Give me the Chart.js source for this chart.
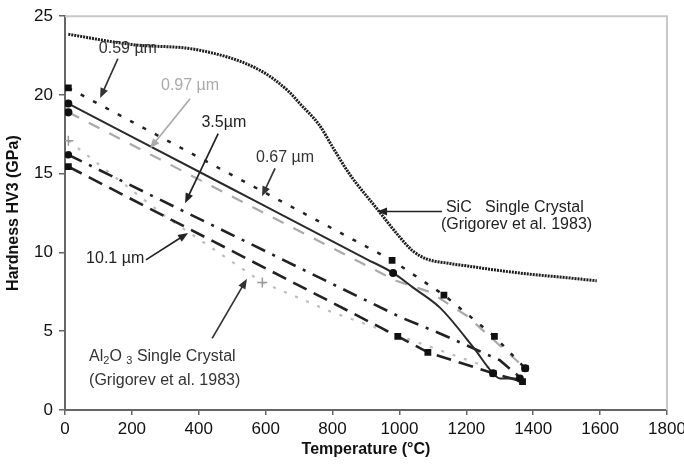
<!DOCTYPE html>
<html>
<head>
<meta charset="utf-8">
<script src="https://cdn.jsdelivr.net/npm/chart.js@4.4.1/dist/chart.umd.min.js"></script>
<style>
  html, body { margin: 0; padding: 0; background: #fff; }
  #wrap { width: 684px; height: 468px; }
</style>
</head>
<body>
<div id="wrap"><canvas id="hvChart"></canvas></div>
<script>
// temperature (°C) / hardness HV3 (GPa)
const xTicks = [0, 200, 400, 600, 800, 1000, 1200, 1400, 1600, 1800];
const yTicks = [0, 5, 10, 15, 20, 25];

const sicCrystalT  = [10, 200, 400, 580, 670, 700, 760, 800, 850, 930, 1000, 1040, 1080, 1150, 1200, 1300, 1400, 1500, 1590];
const sicCrystalHV = [23.85, 23.2, 22.85, 21.6, 20.2, 19.5, 18.1, 16.7, 15.0, 12.85, 11.0, 10.1, 9.6, 9.3, 9.15, 8.85, 8.6, 8.4, 8.2];

const g059T  = [10, 978, 1133, 1284, 1376];
const g059HV = [20.45, 9.5, 7.3, 4.67, 2.65];

const g067T  = [10, 500, 900, 981, 1041, 1121, 1220, 1280, 1300, 1360];
const g067HV = [19.45, 14.03, 9.6, 8.7, 7.77, 6.5, 4.0, 2.33, 2.0, 2.0];

const g097T  = [10, 990, 1090, 1200, 1376];
const g097HV = [18.9, 8.2, 7.5, 6.0, 2.65];

const g35T  = [10, 1002, 1121, 1300, 1360];
const g35HV = [16.2, 5.9, 4.86, 3.16, 2.08];

const g101T  = [10, 995, 1085, 1280, 1368];
const g101HV = [15.45, 4.67, 3.66, 2.33, 1.8];

const aluT  = [10, 300, 590, 800, 1000, 1200, 1280];
const aluHV = [17.1, 12.3, 8.1, 6.2, 4.7, 3.2, 2.6];

function pts(t, h) {
  return t.map((x, i) => ({ x: x, y: h[i] }));
}

// labels and arrows, in data coordinates
const notes = [
  { lines: ['0.59 µm'], x: 188, y: 22.92, align: 'center', color: '#333', from: [158, 22.3], to: [105, 19.8] },
  { lines: ['0.97 µm'], x: 374, y: 20.58, align: 'center', color: '#aaa', from: [374, 19.76], to: [254, 16.6] },
  { lines: ['3.5µm'], x: 475, y: 18.24, align: 'center', color: '#222', from: [458, 17.55], to: [359, 13.13] },
  { lines: ['0.67 µm'], x: 658, y: 16.04, align: 'center', color: '#333', from: [628, 15.34], to: [589, 13.57] },
  { lines: ['10.1 µm'], x: 150, y: 9.6, align: 'center', color: '#222', from: [242, 9.53], to: [368, 11.24] },
  { lines: ['SiC   Single Crystal', '(Grigorev et al. 1983)'], x: 1139, y: 12.88, align: 'left', indent: -5, gap: 17,
    color: '#222', from: [1127, 12.6], to: [933, 12.6] },
  { lines: ['AL2O3', '(Grigorev et al. 1983)'], x: 72, y: 3.41, align: 'left', indent: 0, gap: 24,
    color: '#333', from: [440, 4.55], to: [544, 8.33] }
];

function arrow(ctx, x1, y1, x2, y2, color) {
  const a = Math.atan2(y2 - y1, x2 - x1), L = 10, W = 4;
  ctx.strokeStyle = color; ctx.fillStyle = color; ctx.lineWidth = 1.7;
  ctx.beginPath();
  ctx.moveTo(x1, y1);
  ctx.lineTo(x2 - L * 0.8 * Math.cos(a), y2 - L * 0.8 * Math.sin(a));
  ctx.stroke();
  ctx.beginPath();
  ctx.moveTo(x2, y2);
  ctx.lineTo(x2 - L * Math.cos(a) + W * Math.sin(a), y2 - L * Math.sin(a) - W * Math.cos(a));
  ctx.lineTo(x2 - L * Math.cos(a) - W * Math.sin(a), y2 - L * Math.sin(a) + W * Math.cos(a));
  ctx.closePath();
  ctx.fill();
}

function alLine(ctx, x, y) {
  // Al2O3 with subscripts
  const parts = [['Al', 0], ['2', 1], ['O ', 0], ['3', 1], [' Single Crystal', 0]];
  let cx = x;
  parts.forEach(p => {
    ctx.font = p[1] ? '11px "Liberation Sans", Arial' : '16px "Liberation Sans", Arial';
    ctx.fillText(p[0], cx, y + (p[1] ? 5 : 0));
    cx += ctx.measureText(p[0]).width;
  });
}

const notesPlugin = {
  id: 'notes',
  beforeDatasetsDraw(chart) {
    const { ctx, chartArea: a } = chart;
    ctx.save();
    ctx.strokeStyle = '#c8c8c8';
    ctx.lineWidth = 2;
    ctx.beginPath();
    ctx.moveTo(a.left, a.top);
    ctx.lineTo(a.right, a.top);
    ctx.lineTo(a.right, a.bottom);
    ctx.stroke();
    ctx.restore();
  },
  afterDatasetsDraw(chart) {
    const { ctx, scales: { x, y }, chartArea: a } = chart;
    ctx.save();
    notes.forEach(n => {
      arrow(ctx, x.getPixelForValue(n.from[0]), y.getPixelForValue(n.from[1]),
        x.getPixelForValue(n.to[0]), y.getPixelForValue(n.to[1]), n.color);
      ctx.fillStyle = n.color;
      ctx.textAlign = n.align;
      ctx.textBaseline = 'middle';
      const px = x.getPixelForValue(n.x), py = y.getPixelForValue(n.y);
      n.lines.forEach((s, i) => {
        const ly = py + i * (n.gap || 0);
        if (s === 'AL2O3') {
          alLine(ctx, px, ly);
        } else {
          ctx.font = '16px "Liberation Sans", Arial';
          ctx.fillText(s, px + (i ? (n.indent || 0) : 0), ly);
        }
      });
    });
    // axis titles
    ctx.fillStyle = '#111';
    ctx.font = 'bold 16px "Liberation Sans", Arial';
    ctx.textAlign = 'center';
    ctx.textBaseline = 'middle';
    ctx.fillText('Temperature (°C)', (a.left + a.right) / 2, 450);
    ctx.translate(14, (a.top + a.bottom) / 2);
    ctx.rotate(-Math.PI / 2);
    ctx.fillText('Hardness HV3 (GPa)', 0, 0);
    ctx.restore();
  }
};

const ctx = document.getElementById('hvChart').getContext('2d');
const hvChart = new Chart(ctx, {
  type: 'scatter',
  data: {
    datasets: [
      { label: 'SiC Single Crystal', data: pts(sicCrystalT, sicCrystalHV), showLine: true,
        borderColor: '#1e1e1e', borderWidth: 3, borderDash: [2, 1], cubicInterpolationMode: 'monotone', pointRadius: 0 },
      { label: '0.59 µm', data: pts(g059T, g059HV), showLine: true,
        borderColor: '#222', borderWidth: 2.5, borderDash: [4, 10], pointStyle: 'rect', pointRadius: 3,
        pointBackgroundColor: '#111', pointBorderColor: '#111' },
      { label: '0.67 µm', data: pts(g067T, g067HV), showLine: true, cubicInterpolationMode: 'monotone',
        borderColor: '#2a2a2a', borderWidth: 2, pointRadius: [3, 0, 0, 3, 0, 0, 0, 3, 0, 3],
        pointBackgroundColor: '#111', pointBorderColor: '#111' },
      { label: '0.97 µm', data: pts(g097T, g097HV), showLine: true,
        borderColor: '#aaa', borderWidth: 2.2, borderDash: [12, 11], pointRadius: [3, 0, 0, 0, 3],
        pointBackgroundColor: '#111', pointBorderColor: '#111' },
      { label: '3.5 µm', data: pts(g35T, g35HV), showLine: true,
        borderColor: '#222', borderWidth: 2.6, borderDash: [15, 8, 3, 8], pointRadius: [2.5, 0, 0, 0, 0],
        pointBackgroundColor: '#111', pointBorderColor: '#111' },
      { label: '10.1 µm', data: pts(g101T, g101HV), showLine: true,
        borderColor: '#222', borderWidth: 2.6, borderDash: [15, 8], pointStyle: 'rect', pointRadius: 3,
        pointBackgroundColor: '#111', pointBorderColor: '#111' },
      { label: 'Al2O3 Single Crystal', data: pts(aluT, aluHV), showLine: true,
        borderColor: '#bdbdbd', borderWidth: 2.2, borderDash: [3, 9], pointStyle: 'cross',
        pointRadius: [5, 0, 5, 0, 0, 0, 0], pointBorderColor: '#999', pointBorderWidth: 1.5 }
    ]
  },
  options: {
    responsive: true,
    maintainAspectRatio: false,
    animation: false,
    layout: { padding: { top: 14, right: 17, left: 0, bottom: 0 } },
    plugins: { legend: { display: false }, tooltip: { enabled: false } },
    scales: {
      x: {
        type: 'linear', min: 0, max: 1800,
        afterBuildTicks: s => { s.ticks = xTicks.map(v => ({ value: v })); },
        afterFit: s => { s.height = 58; s.paddingLeft = 0; s.paddingRight = 0; },
        border: { color: '#666', width: 2 },
        grid: { drawOnChartArea: false, drawTicks: true, tickLength: 5, color: '#666', lineWidth: 1.5 },
        ticks: { color: '#111', padding: 4, maxRotation: 0, callback: v => String(v),
          font: { family: '"Liberation Sans", Arial', size: 17 } }
      },
      y: {
        type: 'linear', min: 0, max: 25,
        afterBuildTicks: s => { s.ticks = yTicks.map(v => ({ value: v })); },
        afterFit: s => { s.width = 65; },
        border: { color: '#666', width: 2 },
        grid: { drawOnChartArea: false, drawTicks: true, tickLength: 6, color: '#666', lineWidth: 1.5 },
        ticks: { color: '#111', padding: 6, callback: v => String(v),
          font: { family: '"Liberation Sans", Arial', size: 17 } }
      }
    }
  },
  plugins: [notesPlugin]
});
</script>
</body>
</html>
